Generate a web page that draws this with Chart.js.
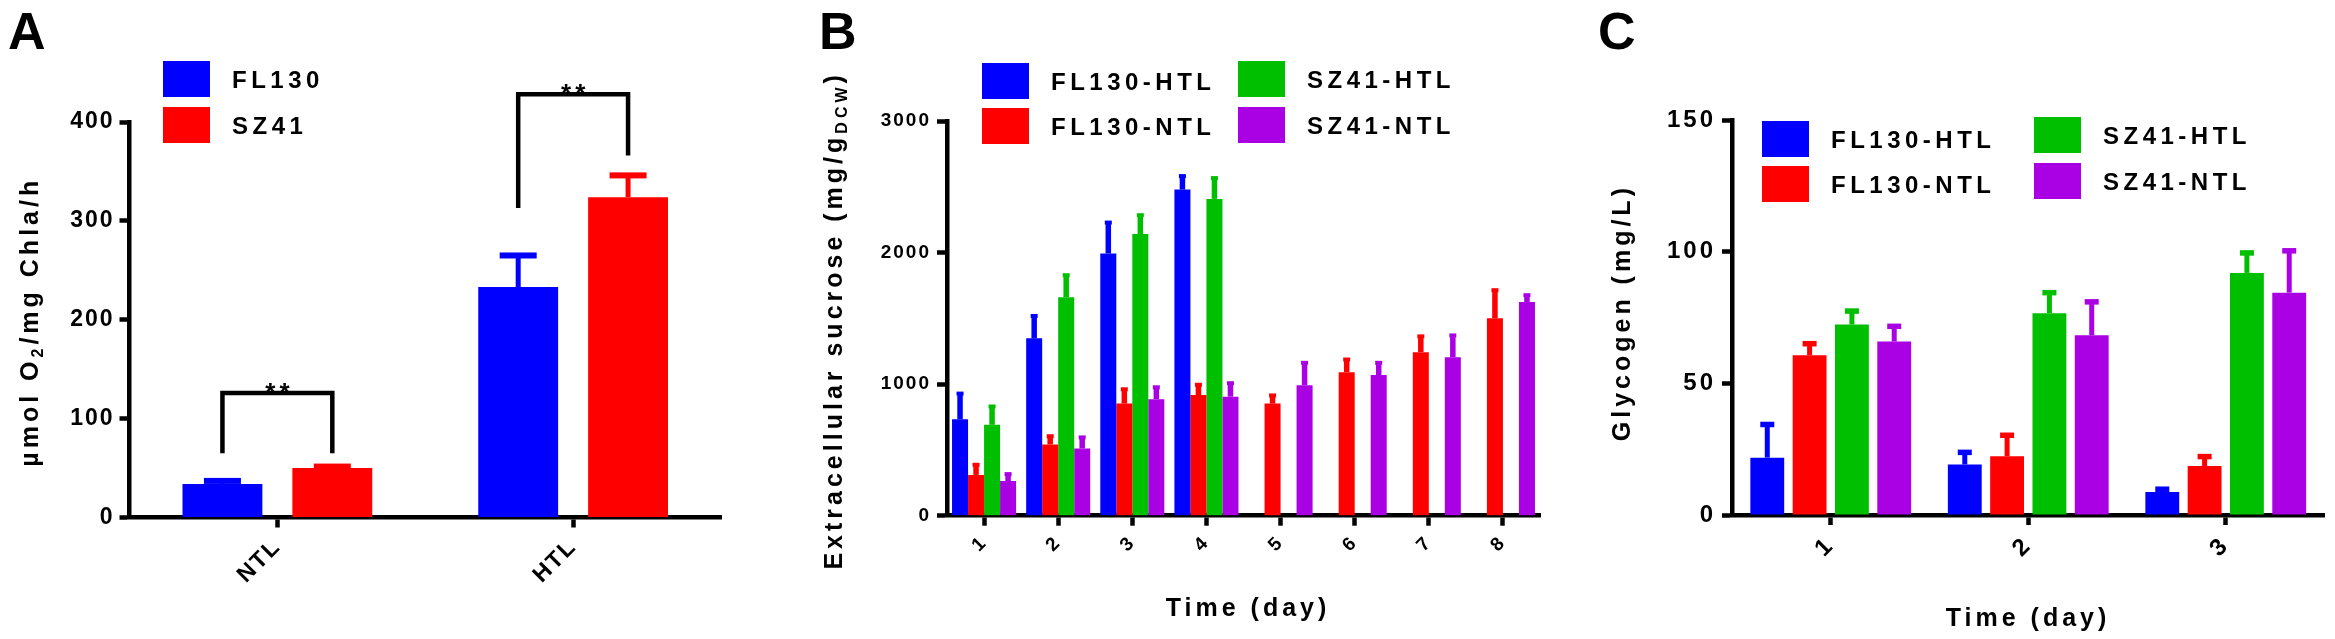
<!DOCTYPE html>
<html>
<head>
<meta charset="utf-8">
<title>O2 evolution, extracellular sucrose and glycogen</title>
<script src="https://cdn.jsdelivr.net/npm/chart.js@4.4.1/dist/chart.umd.min.js"></script>
<style>
  html, body { margin: 0; padding: 0; background: #fff; }
  body { position: relative; width: 2335px; height: 639px; overflow: hidden; }
  canvas { position: absolute; top: 0; }
</style>
</head>
<body>
<canvas id="chartA" width="760" height="639" style="left:0px"></canvas>
<canvas id="chartB" width="800" height="639" style="left:760px"></canvas>
<canvas id="chartC" width="755" height="639" style="left:1580px"></canvas>
<script>
// panel A - O2 evolution
const groupsA = ["NTL", "HTL"];
const fl130A = [34, 233];
const fl130AErr = [3, 32];
const sz41A = [50, 324];
const sz41AErr = [1.5, 22];
const bracketTopA = [126, 428];
const bracketLeftA = [65, 313];
const bracketRightA = [65, 366];

// panel B - extracellular sucrose
const daysB = ["1", "2", "3", "4", "5", "6", "7", "8"];
const fl130HtlB = [733, 1348, 1993, 2479, null, null, null, null];
const fl130HtlBErr = [195, 170, 235, 102, null, null, null, null];
const fl130NtlB = [310, 542, 852, 917, 852, 1091, 1243, 1500];
const fl130NtlBErr = [77, 62, 109, 78, 62, 96, 120, 214];
const sz41HtlB = [691, 1661, 2141, 2408, null, null, null, null];
const sz41HtlBErr = [139, 167, 143, 158, null, null, null, null];
const sz41NtlB = [263, 511, 886, 905, 992, 1069, 1205, 1624];
const sz41NtlBErr = [53, 84, 90, 102, 170, 93, 165, 52];

// panel C - glycogen
const daysC = ["1", "2", "3"];
const fl130HtlC = [21.8, 19.2, 8.7];
const fl130HtlCErr = [12.6, 4.6, 1.1];
const fl130NtlC = [60.7, 22.3, 18.6];
const fl130NtlCErr = [4.4, 8.0, 3.6];
const sz41HtlC = [72.4, 76.7, 92.0];
const sz41HtlCErr = [5.1, 7.8, 7.6];
const sz41NtlC = [65.9, 68.3, 84.5];
const sz41NtlCErr = [5.8, 12.7, 15.9];

const BLUE = "#0000ff";
const RED = "#ff0000";
const GREEN = "#00be00";
const PURPLE = "#aa00e4";
const SANS = "'Liberation Sans', Arial, sans-serif";

function richText(ctx, parts, cx, cy, angle, size, spacing) {
  ctx.save();
  ctx.translate(cx, cy);
  ctx.rotate(angle);
  ctx.letterSpacing = spacing;
  ctx.textBaseline = "middle";
  ctx.textAlign = "left";
  ctx.fillStyle = "#000";
  let total = 0;
  const widths = parts.map(p => {
    ctx.font = "bold " + (p.sub ? Math.round(size * 0.62) : size) + "px " + SANS;
    const w = ctx.measureText(p.t).width;
    total += w;
    return w;
  });
  let x = -total / 2;
  parts.forEach((p, i) => {
    ctx.font = "bold " + (p.sub ? Math.round(size * 0.62) : size) + "px " + SANS;
    ctx.fillText(p.t, x, p.sub ? size * 0.32 : 0);
    x += widths[i];
  });
  ctx.restore();
}

// letters, axis titles, legend
const decor = {
  id: "decor",
  beforeDraw(chart, args, opts) {
    chart.ctx.letterSpacing = opts.tickSpacing;
  },
  afterDraw(chart, args, opts) {
    const ctx = chart.ctx;
    ctx.save();
    ctx.letterSpacing = "0px";
    ctx.fillStyle = "#000";
    ctx.textBaseline = "alphabetic";
    ctx.textAlign = "left";
    ctx.font = "bold 52px " + SANS;
    ctx.fillText(opts.letter, opts.letterX, 49);
    ctx.restore();

    const area = chart.chartArea;
    richText(ctx, opts.yTitle, opts.yTitleX, (area.top + area.bottom) / 2 + opts.yTitleShift, -Math.PI / 2, 25, "4px");
    if (opts.xTitle) {
      richText(ctx, [{ t: opts.xTitle }], opts.xTitleX, opts.xTitleY, 0, 25, "4px");
    }

    ctx.save();
    ctx.letterSpacing = "4.5px";
    ctx.textBaseline = "middle";
    ctx.textAlign = "left";
    ctx.font = "bold 24px " + SANS;
    opts.legend.forEach(item => {
      ctx.fillStyle = item.color;
      ctx.fillRect(item.bx, item.by, 47, 36);
      ctx.fillStyle = "#000";
      ctx.fillText(item.label, item.bx + 69, item.by + 20);
    });
    ctx.restore();
  }
};

// upward error bars in the bar colour
const errorBars = {
  id: "errorBars",
  afterDatasetsDraw(chart, args, opts) {
    const ctx = chart.ctx;
    const y = chart.scales.y;
    ctx.save();
    chart.data.datasets.forEach((ds, i) => {
      const meta = chart.getDatasetMeta(i);
      ds.errors.forEach((e, j) => {
        const v = ds.data[j];
        if (v == null || e == null) return;
        const bar = meta.data[j];
        const top = y.getPixelForValue(v + e);
        ctx.fillStyle = ds.backgroundColor;
        ctx.fillRect(bar.x - opts.line / 2, top, opts.line, bar.y - top);
        ctx.fillRect(bar.x - opts.cap / 2, top - opts.capThick / 2, opts.cap, opts.capThick);
      });
    });
    ctx.restore();
  }
};

// significance brackets (panel A)
const brackets = {
  id: "brackets",
  afterDatasetsDraw(chart, args, opts) {
    const ctx = chart.ctx;
    const y = chart.scales.y;
    const m0 = chart.getDatasetMeta(0);
    const m1 = chart.getDatasetMeta(1);
    ctx.save();
    ctx.strokeStyle = "#000";
    ctx.lineWidth = 4.5;
    ctx.fillStyle = "#000";
    ctx.font = "bold 26px " + SANS;
    ctx.letterSpacing = "4px";
    ctx.textAlign = "center";
    ctx.textBaseline = "alphabetic";
    opts.top.forEach((t, j) => {
      const x0 = m0.data[j].x;
      const x1 = m1.data[j].x;
      const yt = y.getPixelForValue(t);
      ctx.beginPath();
      ctx.moveTo(x0, y.getPixelForValue(opts.left[j]));
      ctx.lineTo(x0, yt);
      ctx.lineTo(x1, yt);
      ctx.lineTo(x1, y.getPixelForValue(opts.right[j]));
      ctx.stroke();
      ctx.fillText("**", (x0 + x1) / 2 + 2, yt + 8);
    });
    ctx.restore();
  }
};

function barSet(label, data, errors, color, cat, bar) {
  return {
    label: label,
    data: data,
    errors: errors,
    backgroundColor: color,
    borderWidth: 0,
    categoryPercentage: cat,
    barPercentage: bar,
  };
}

function scales(box, yMax, yStep, tickSize, tickPad) {
  const tickFont = { family: SANS, weight: "bold", size: tickSize };
  return {
    x: {
      afterFit: s => { s.height = box.bottom; },
      grid: { offset: false, drawOnChartArea: false, tickLength: 10, tickWidth: 4.5, color: "#000" },
      border: { display: true, width: 4.5, color: "#000" },
      ticks: { color: "#000", font: tickFont, minRotation: 45, maxRotation: 45, autoSkip: false, padding: 6 },
    },
    y: {
      min: 0,
      max: yMax,
      afterFit: s => { s.width = box.left; },
      grid: { drawOnChartArea: false, tickLength: 10, tickWidth: 4.5, color: "#000" },
      border: { display: true, width: 4.5, color: "#000" },
      ticks: { stepSize: yStep, color: "#000", font: tickFont, padding: tickPad, callback: v => String(v) },
    },
  };
}

new Chart(document.getElementById("chartA"), {
  type: "bar",
  data: {
    labels: groupsA,
    datasets: [
      barSet("FL130", fl130A, fl130AErr, BLUE, 0.743, 0.727),
      barSet("SZ41", sz41A, sz41AErr, RED, 0.743, 0.727),
    ],
  },
  options: {
    responsive: false,
    animation: false,
    devicePixelRatio: 1,
    layout: { padding: { top: 122, right: 39, left: 0, bottom: 0 } },
    scales: scales({ left: 129.5, bottom: 121.5 }, 400, 100, 23, 5),
    plugins: {
      legend: { display: false },
      tooltip: { enabled: false },
      errorBars: { line: 5, cap: 37, capThick: 6 },
      brackets: { top: bracketTopA, left: bracketLeftA, right: bracketRightA },
      decor: {
        tickSpacing: "2px",
        letter: "A",
        letterX: 8,
        yTitle: [{ t: "\u00b5mol O" }, { t: "2", sub: true }, { t: "/mg Chla/h" }],
        yTitleX: 31,
        yTitleShift: 2,
        legend: [
          { color: BLUE, label: "FL130", bx: 163, by: 61 },
          { color: RED, label: "SZ41", bx: 163, by: 107 },
        ],
      },
    },
  },
  plugins: [errorBars, brackets, decor],
});

new Chart(document.getElementById("chartB"), {
  type: "bar",
  data: {
    labels: daysB,
    datasets: [
      barSet("FL130-HTL", fl130HtlB, fl130HtlBErr, BLUE, 0.864, 1.0),
      barSet("FL130-NTL", fl130NtlB, fl130NtlBErr, RED, 0.864, 1.0),
      barSet("SZ41-HTL", sz41HtlB, sz41HtlBErr, GREEN, 0.864, 1.0),
      barSet("SZ41-NTL", sz41NtlB, sz41NtlBErr, PURPLE, 0.864, 1.0),
    ],
  },
  options: {
    responsive: false,
    animation: false,
    devicePixelRatio: 1,
    layout: { padding: { top: 121, right: 20, left: 0, bottom: 0 } },
    scales: scales({ left: 187, bottom: 123.3 }, 3000, 1000, 19, 6),
    plugins: {
      legend: { display: false },
      tooltip: { enabled: false },
      errorBars: { line: 5.5, cap: 7, capThick: 4 },
      decor: {
        tickSpacing: "2px",
        letter: "B",
        letterX: 59,
        yTitle: [{ t: "Extracellular sucrose (mg/g" }, { t: "DCW", sub: true }, { t: ")" }],
        yTitleX: 75,
        yTitleShift: 2,
        xTitle: "Time (day)",
        xTitleX: 488,
        xTitleY: 609,
        legend: [
          { color: BLUE, label: "FL130-HTL", bx: 222, by: 63 },
          { color: RED, label: "FL130-NTL", bx: 222, by: 108 },
          { color: GREEN, label: "SZ41-HTL", bx: 478, by: 61 },
          { color: PURPLE, label: "SZ41-NTL", bx: 478, by: 107 },
        ],
      },
    },
  },
  plugins: [errorBars, decor],
});

new Chart(document.getElementById("chartC"), {
  type: "bar",
  data: {
    labels: daysC,
    datasets: [
      barSet("FL130-HTL", fl130HtlC, fl130HtlCErr, BLUE, 0.857, 0.8),
      barSet("FL130-NTL", fl130NtlC, fl130NtlCErr, RED, 0.857, 0.8),
      barSet("SZ41-HTL", sz41HtlC, sz41HtlCErr, GREEN, 0.857, 0.8),
      barSet("SZ41-NTL", sz41NtlC, sz41NtlCErr, PURPLE, 0.857, 0.8),
    ],
  },
  options: {
    responsive: false,
    animation: false,
    devicePixelRatio: 1,
    layout: { padding: { top: 120.3, right: 10.5, left: 0, bottom: 0 } },
    scales: scales({ left: 152, bottom: 124 }, 150, 50, 24, 6),
    plugins: {
      legend: { display: false },
      tooltip: { enabled: false },
      errorBars: { line: 5, cap: 14, capThick: 5.5 },
      decor: {
        tickSpacing: "3px",
        letter: "C",
        letterX: 18,
        yTitle: [{ t: "Glycogen (mg/L)" }],
        yTitleX: 43,
        yTitleShift: -5,
        xTitle: "Time (day)",
        xTitleX: 448,
        xTitleY: 619,
        legend: [
          { color: BLUE, label: "FL130-HTL", bx: 182, by: 121 },
          { color: RED, label: "FL130-NTL", bx: 182, by: 166 },
          { color: GREEN, label: "SZ41-HTL", bx: 454, by: 117 },
          { color: PURPLE, label: "SZ41-NTL", bx: 454, by: 163 },
        ],
      },
    },
  },
  plugins: [errorBars, decor],
});
</script>
</body>
</html>
